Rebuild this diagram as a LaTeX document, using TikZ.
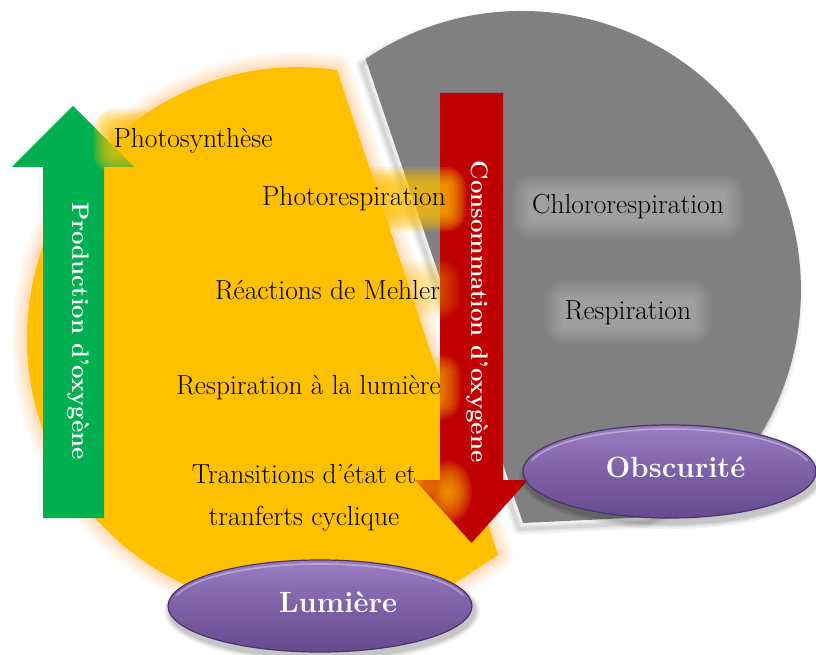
\documentclass[tikz,border=0pt]{standalone}
\usepackage{fontspec}
\usetikzlibrary{calc,shapes.geometric}
\definecolor{gold}{HTML}{FFC000}
\definecolor{peach}{HTML}{FFC990}
\definecolor{greyfill}{HTML}{808080}
\definecolor{arrowgreen}{HTML}{00B050}
\definecolor{arrowred}{HTML}{C00000}
\definecolor{ovtop}{HTML}{9A7EC2}
\definecolor{ovmid}{HTML}{7E60A8}
\definecolor{ovbot}{HTML}{664A8E}
\definecolor{ovedge}{HTML}{4A3468}
\pgfdeclarelayer{bg}\pgfdeclarelayer{glow}\pgfdeclarelayer{top}
\pgfsetlayers{bg,glow,main,top}
\newcommand{\textglow}[3]{%
  \foreach \k in {1,...,9}{%
    \pgfmathsetmacro{\rr}{2.2*\k}%
    \fill[#2, opacity=#3, rounded corners=\rr pt]
      ($(#1.south west)+(-\rr pt,-\rr pt)$) rectangle ($(#1.north east)+(\rr pt,\rr pt)$);}}
\def\ypath{(337,70) arc[start angle=-81.72, end angle=-295, radius=271] -- (440,593) -- (498,555) -- cycle}
\def\gpath{(365.6,58.9) arc[start angle=-124.08, end angle=45, radius=279] -- (650,517) -- (523,523) -- cycle}
\begin{document}
\begin{tikzpicture}[x=1pt,y=-1pt,
  lbl/.style={font=\fontsize{27.5}{32}\selectfont, text=black, inner sep=0pt, anchor=base},
  vlbl/.style={font=\bfseries\fontsize{23.9}{28}\selectfont, text=white, inner sep=0pt, rotate=-90},
  oval/.style={ellipse, top color=ovtop, bottom color=ovbot, middle color=ovmid, draw=ovedge, line width=1.2pt, inner sep=0pt},
  hilite/.style={white, opacity=0.35, line width=1.6pt, line cap=round},
  ovlbl/.style={font=\bfseries\fontsize{29.3}{34}\selectfont, text=white, inner sep=0pt, anchor=base}]
\useasboundingbox (0,0) rectangle (816,655);
\begin{pgfonlayer}{bg}
  \fill[white] (0,0) rectangle (816,655);
  \begin{scope}[shift={(-4,6)}]
    \foreach \w/\o in {12/0.04,8/0.05,4/0.07}{\draw[black, line width=\w pt, opacity=\o, line join=round] \gpath;}
  \end{scope}
  \fill[greyfill] \gpath;
  \foreach \w/\o in {30/0.10,24/0.12,18/0.15,12/0.2,6/0.25}{\draw[peach, line width=\w pt, opacity=\o, line join=round] \ypath;}
  \fill[gold] \ypath;
  \fill[arrowgreen] (43,518) -- (43,167) -- (12,167) -- (73,106) -- (134,167) -- (104,167) -- (104,518) -- cycle;
  \fill[arrowred] (440,93) -- (503,93) -- (503,480) -- (528,480) -- (471.5,543) -- (415,480) -- (440,480) -- cycle;
\end{pgfonlayer}
\node[lbl] (photosyn) at (193,148) {Photosynthèse};
\node[lbl] (photoresp) at (354,206) {Photorespiration};
\node[lbl] (chloro) at (628,214) {Chlororespiration};
\node[lbl] (mehler) at (327.5,299) {Réactions de Mehler};
\node[lbl] (resp) at (628,319) {Respiration};
\node[lbl] (resplum) at (308.5,394) {Respiration à la lumière};
\node[lbl] (trans) at (304,483) {Transitions d’état et};
\node[lbl] (tranf) at (304,525) {tranferts cyclique};
\node[vlbl] (prod) at (79,331) {Production d’oxygène};
\node[vlbl] (cons) at (477.5,311.5) {Consommation d’oxygène};
\begin{pgfonlayer}{glow}
  \textglow{photosyn}{gold}{0.15}
  \textglow{photoresp}{gold}{0.15}
  \textglow{mehler}{gold}{0.05}
  \textglow{resplum}{gold}{0.1}
  \textglow{trans}{gold}{0.12}
  \textglow{tranf}{gold}{0.12}
  \textglow{chloro}{white}{0.035}
  \textglow{resp}{white}{0.035}
  \foreach \k in {1,...,12}{\fill[gold, opacity=0.11] (448,492) ellipse [x radius=2*\k, y radius=2.6*\k];}
\end{pgfonlayer}
\begin{pgfonlayer}{top}
  \foreach \k/\o in {6/0.06,4/0.08,2/0.1}{\fill[black, opacity=\o] (322,611) ellipse [x radius=152+\k, y radius=46+\k];}
  \node[oval, minimum width=304, minimum height=92] (lum) at (320,606) {};
  \draw[hilite] ($(lum.center)+(-143,-10.9)$) arc[start angle=-165, end angle=-15, x radius=148, y radius=42];
  \node[ovlbl] (lumt) at (338,612) {Lumière};
  \foreach \k/\o in {6/0.06,4/0.08,2/0.1}{\fill[black, opacity=\o] (671.5,476.5) ellipse [x radius=146.5+\k, y radius=46.5+\k];}
  \node[oval, minimum width=293, minimum height=93] (obs) at (669.5,471.5) {};
  \draw[hilite] ($(obs.center)+(-137.6,-11)$) arc[start angle=-165, end angle=-15, x radius=142.5, y radius=42.5];
  \node[ovlbl] (obst) at (675.5,477) {Obscurité};
\end{pgfonlayer}
\end{tikzpicture}
\end{document}
